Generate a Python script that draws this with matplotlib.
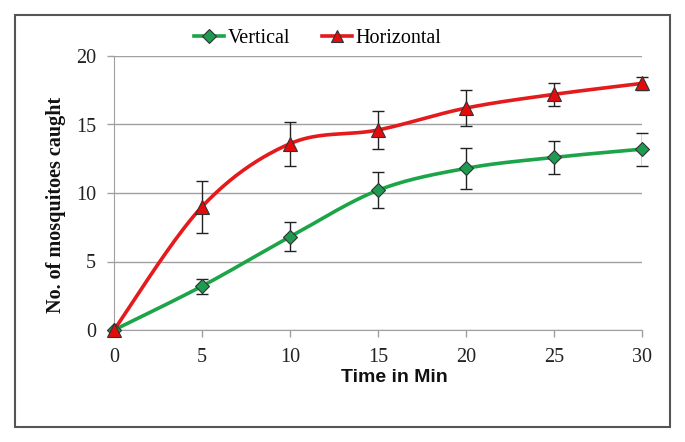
import numpy as np
import matplotlib
matplotlib.use("Agg")
import matplotlib.pyplot as plt
from matplotlib.patches import Rectangle
from matplotlib.lines import Line2D

time_min = [0, 5, 10, 15, 20, 25, 30]
vertical = [0, 3.2, 6.8, 10.2, 11.8, 12.6, 13.2]
vertical_err = [0, 0.55, 1.05, 1.3, 1.5, 1.2, 1.2]
horizontal = [0, 9.0, 13.6, 14.6, 16.2, 17.2, 18.0]
horizontal_err = [0, 1.9, 1.6, 1.4, 1.3, 0.85, 0.5]
y_ticks = [0, 5, 10, 15, 20]
x_ticks = [0, 5, 10, 15, 20, 25, 30]


def smooth(xs, ys, n=40):
    """Excel-like smoothed line (Catmull-Rom Bezier) through the points."""
    p = np.column_stack([xs, ys]).astype(float)
    pts = np.vstack([p[0], p, p[-1]])
    out = []
    t = np.linspace(0, 1, n)[:, None]
    for i in range(1, len(pts) - 2):
        p0, p1, p2, p3 = pts[i - 1], pts[i], pts[i + 1], pts[i + 2]
        c1 = p1 + (p2 - p0) / 6.0
        c2 = p2 - (p3 - p1) / 6.0
        seg = ((1 - t) ** 3) * p1 + 3 * ((1 - t) ** 2) * t * c1 + 3 * (1 - t) * t ** 2 * c2 + t ** 3 * p2
        out.append(seg)
    out = np.vstack(out)
    return out[:, 0], out[:, 1]


W, H = 685, 442
fig = plt.figure(figsize=(W / 100, H / 100), dpi=100)
ax = fig.add_axes([114 / W, 1 - 330 / H, (642 - 114) / W, (330 - 56) / H])

green = "#1BA548"
green_fill = "#1E9B50"
red = "#E41A1C"
red_fill = "#E30B0B"

for ys, err, col, fill, mk, ms in [
    (vertical, vertical_err, green, green_fill, "D", 7.5),
    (horizontal, horizontal_err, red, red_fill, "^", 10),
]:
    sx, sy = smooth(time_min, ys)
    ax.plot(sx, sy, color=col, lw=2.6, zorder=3, solid_capstyle="round")
    ax.errorbar(time_min[1:], ys[1:], yerr=err[1:], fmt="none", ecolor="#222222",
                elinewidth=1.0, capsize=4, capthick=1.0, zorder=4)
    ax.plot(time_min, ys, linestyle="none", marker=mk, markersize=ms,
            markerfacecolor=fill, markeredgecolor="#333333", markeredgewidth=0.8, zorder=5)

ax.set_xlim(0, 30)
ax.set_ylim(0, 20)
ax.set_xticks(x_ticks)
ax.set_yticks(y_ticks)
ax.grid(axis="y", color="#A0A0A0", lw=1.0)
ax.set_axisbelow(True)
for s in ["top", "right"]:
    ax.spines[s].set_visible(False)
ax.spines["left"].set_color("#A0A0A0")
ax.spines["bottom"].set_color("#A0A0A0")
ax.tick_params(axis="both", colors="#A0A0A0", length=5, width=1.0,
               labelcolor="#222222", labelsize=14.5, pad=8)
for lab in ax.get_xticklabels() + ax.get_yticklabels():
    lab.set_fontfamily("Liberation Serif")
for ln in ax.lines:
    ln.set_clip_on(False)

ax.set_xlabel("Time in Min", fontfamily="Liberation Sans", fontweight="bold",
              fontsize=14, color="#111111")
ax.xaxis.set_label_coords((394 - 114) / 528, -(378 - 330) / 274, transform=ax.transAxes)
ax.set_ylabel("No. of mosquitoes caught", fontfamily="Liberation Serif",
              fontweight="bold", fontsize=14.5, color="#111111")
ax.yaxis.set_label_coords((56 - 114) / 528, (330 - 205) / 274, transform=ax.transAxes)
ax.xaxis.label.set_va("center")
ax.yaxis.label.set_va("center")

handles = [
    Line2D([], [], color=green, lw=2.6, marker="D", markersize=7,
           markerfacecolor=green_fill, markeredgecolor="#333333", markeredgewidth=0.8),
    Line2D([], [], color=red, lw=2.6, marker="^", markersize=9,
           markerfacecolor=red_fill, markeredgecolor="#333333", markeredgewidth=0.8),
]
fig.legend(handles, ["Vertical", "Horizontal"], loc="center",
           bbox_to_anchor=(318 / W, 1 - 38 / H), ncol=2, frameon=False,
           prop={"family": "Liberation Serif", "size": 14.5},
           handlelength=1.45, handletextpad=0.2, columnspacing=1.6)

fig.patches.append(Rectangle((15 / W, 1 - 427 / H), (670 - 15) / W, (427 - 15) / H,
                             transform=fig.transFigure, fill=False,
                             edgecolor="#555555", lw=1.5))

fig.savefig("out.png", dpi=100, facecolor="white")
